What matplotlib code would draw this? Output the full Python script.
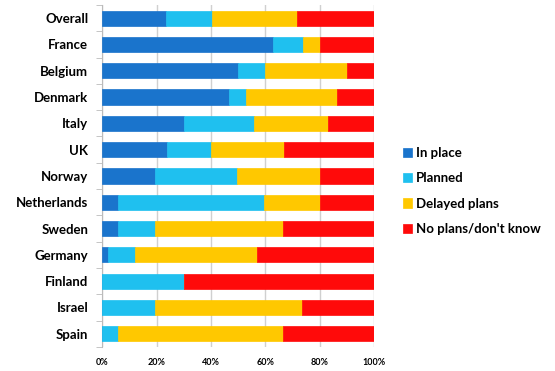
import matplotlib.pyplot as plt
import numpy as np

countries = ["Overall", "France", "Belgium", "Denmark", "Italy", "UK", "Norway",
             "Netherlands", "Sweden", "Germany", "Finland", "Israel", "Spain"]
in_place = [23.5, 63, 50, 46.5, 30, 24, 19.5, 6, 6, 2, 0, 0, 0]
planned = [17, 11, 10, 6.5, 26, 16, 30, 53.5, 13.5, 10, 30, 19.5, 6]
delayed = [31, 6, 30, 33.5, 27, 27, 30.5, 20.5, 47, 45, 0, 54, 60.5]
no_plans = [28.5, 20, 10, 13.5, 17, 33, 20, 20, 33.5, 43, 70, 26.5, 33.5]

series = [("In place", in_place, "#1a74cc"),
          ("Planned", planned, "#1fc0ef"),
          ("Delayed plans", delayed, "#ffc800"),
          ("No plans/don't know", no_plans, "#ff0a0a")]

plt.rcParams['font.family'] = ['Lato', 'DejaVu Sans']
plt.rcParams['font.weight'] = 'bold'

fig = plt.figure(figsize=(5.55, 3.71), dpi=100)
ax = fig.add_axes([0.184, 0.065, 0.49, 0.9215])

y = np.arange(len(countries))
left = np.zeros(len(countries))
for name, vals, col in series:
    ax.barh(y, vals, left=left, height=0.58, color=col, label=name,
            edgecolor=col, linewidth=0.5, zorder=3)
    left += np.array(vals)

ax.set_xlim(0, 100)
ax.set_ylim(len(countries) - 0.5, -0.5)
ax.set_xticks([0, 20, 40, 60, 80, 100])
ax.set_xticklabels(["0%", "20%", "40%", "60%", "80%", "100%"], fontsize=6.5, fontweight='bold')
ax.set_yticks(y)
ax.set_yticklabels(countries, fontsize=9.5, fontweight='bold')
ax.set_yticks(np.arange(len(countries) + 1) - 0.5, minor=True)
ax.tick_params(axis='y', which='major', length=0, pad=10)
ax.tick_params(axis='y', which='minor', length=4, color='#bbbbbb')
ax.tick_params(axis='x', length=0, pad=8)

ax.grid(axis='x', color='#d0d0d0', linewidth=1, zorder=0)
for s in ['top', 'right', 'bottom']:
    ax.spines[s].set_visible(False)
ax.spines['left'].set_color('#bbbbbb')

fig.legend(loc='upper left', bbox_to_anchor=(0.705, 0.635), frameon=False,
           handlelength=0.7, handleheight=0.7, handletextpad=0.3,
           labelspacing=1.0, prop={'weight': 'bold', 'size': 9.5})

fig.savefig("out.png", dpi=100)
